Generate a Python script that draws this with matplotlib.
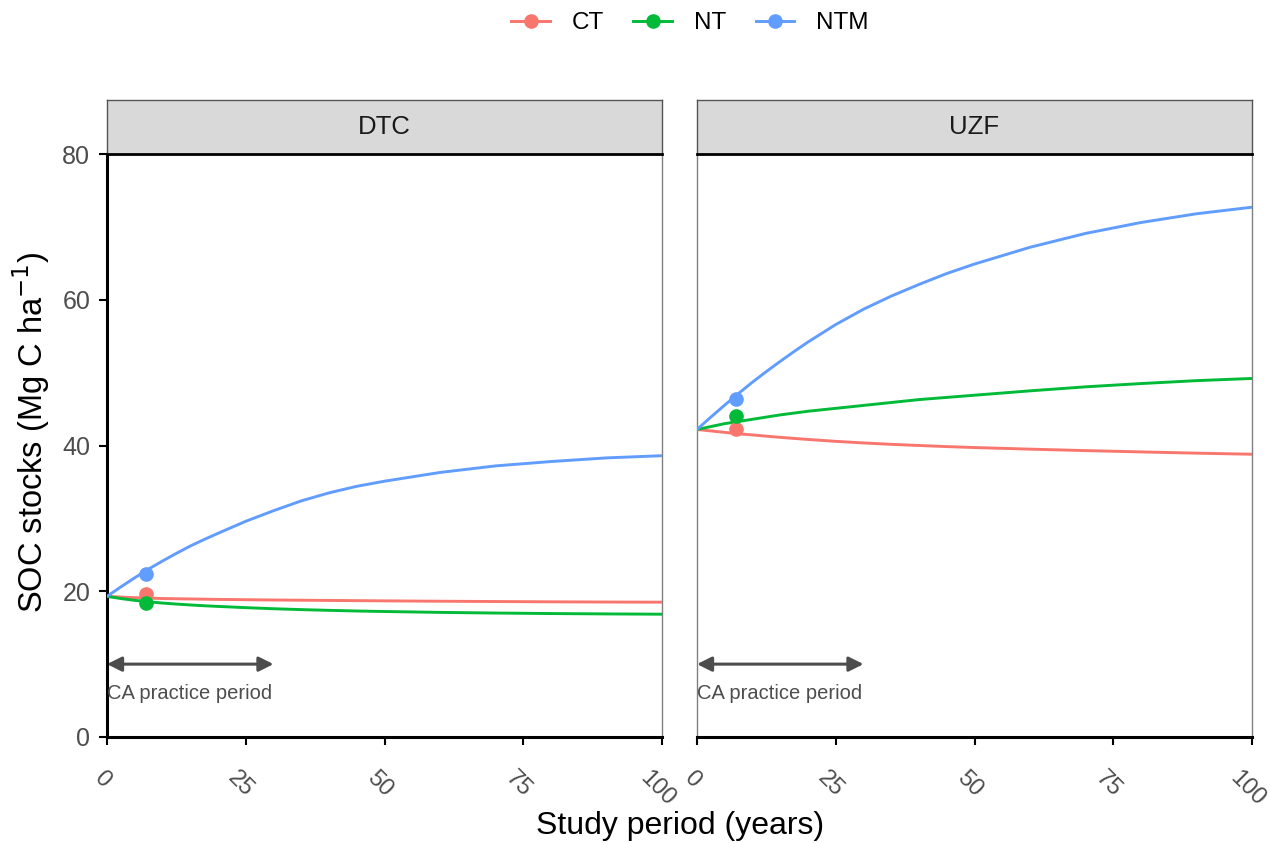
import matplotlib
matplotlib.use("Agg")
import matplotlib.pyplot as plt
from matplotlib.lines import Line2D
from matplotlib.transforms import ScaledTranslation

plt.rcParams['font.family'] = ['Liberation Sans', 'DejaVu Sans']

# data
sites = ['DTC', 'UZF']
treatments = ['CT', 'NT', 'NTM']
colours = {'CT': '#F8766D', 'NT': '#00BA38', 'NTM': '#619CFF'}

years = [0, 2.5, 5, 7.5, 10, 12.5, 15, 17.5, 20, 25, 30, 35, 40, 45, 50, 60, 70, 80, 90, 100]

dtc_ct = [19.3, 19.2, 19.12, 19.06, 19.0, 18.97, 18.94, 18.91, 18.88, 18.84,
          18.8, 18.77, 18.74, 18.71, 18.68, 18.63, 18.59, 18.55, 18.52, 18.5]
dtc_nt = [19.3, 19.0, 18.75, 18.55, 18.38, 18.24, 18.12, 18.01, 17.92, 17.75,
          17.6, 17.48, 17.38, 17.29, 17.22, 17.1, 17.01, 16.94, 16.89, 16.85]
dtc_ntm = [19.3, 20.6, 21.85, 23.05, 24.15, 25.2, 26.2, 27.1, 27.95, 29.6,
           31.05, 32.4, 33.5, 34.4, 35.1, 36.3, 37.2, 37.8, 38.3, 38.6]

uzf_ct = [42.2, 42.0, 41.8, 41.6, 41.45, 41.28, 41.12, 40.97, 40.83, 40.57,
          40.35, 40.16, 40.0, 39.85, 39.72, 39.5, 39.3, 39.12, 38.95, 38.8]
uzf_nt = [42.2, 42.6, 43.0, 43.3, 43.6, 43.9, 44.2, 44.45, 44.7, 45.1,
          45.5, 45.9, 46.3, 46.6, 46.9, 47.5, 48.05, 48.5, 48.9, 49.2]
uzf_ntm = [42.2, 43.9, 45.55, 47.15, 48.7, 50.15, 51.55, 52.9, 54.2, 56.6,
           58.7, 60.5, 62.1, 63.6, 64.9, 67.2, 69.1, 70.6, 71.8, 72.7]

obs_year = 7
dtc_obs = {'CT': 19.6, 'NT': 18.4, 'NTM': 22.3}
uzf_obs = {'CT': 42.3, 'NT': 44.1, 'NTM': 46.4}

curves = {
    'DTC': {'CT': dtc_ct, 'NT': dtc_nt, 'NTM': dtc_ntm},
    'UZF': {'CT': uzf_ct, 'NT': uzf_nt, 'NTM': uzf_ntm},
}
observed = {'DTC': dtc_obs, 'UZF': uzf_obs}

x_ticks = [0, 25, 50, 75, 100]
x_ticklabels = ['0', '25', '50', '75', '100']
y_ticks = [0, 20, 40, 60, 80]

ca_period = (0, 30)

W, H = 1270, 843
fig = plt.figure(figsize=(W / 100, H / 100), dpi=100)

panel_left = [107, 697]
panel_w = 555
panel_top, panel_bottom = 154, 737
strip_top = 100

grey_txt = '#4D4D4D'

for i, site in enumerate(sites):
    x0 = panel_left[i]
    ax = fig.add_axes([x0 / W, (H - panel_bottom) / H, panel_w / W, (panel_bottom - panel_top) / H])
    for t in treatments:
        ax.plot(years, curves[site][t], color=colours[t], lw=2.1, zorder=3)
        ax.plot(obs_year, observed[site][t], 'o', color=colours[t], ms=9.5, zorder=4)

    ax.annotate('', xy=(ca_period[1], 10), xytext=(ca_period[0], 10),
                arrowprops=dict(arrowstyle='<|-|>', color=grey_txt, lw=2.2, mutation_scale=22,
                                shrinkA=0, shrinkB=0))
    ax.text(0, 6, 'CA practice period', ha='left', va='center', fontsize=14.5, color=grey_txt)

    ax.set_xlim(0, 100)
    ax.set_ylim(0, 80)
    ax.set_xticks(x_ticks)
    ax.set_xticklabels([])
    # rotated x labels, nudged a little left of their ticks
    lab_tr = ax.get_xaxis_transform() + ScaledTranslation(-5 / 100, -30 / 100, fig.dpi_scale_trans)
    for xv, lab in zip(x_ticks, x_ticklabels):
        ax.text(xv, 0, lab, transform=lab_tr, rotation=-45, ha='center', va='top',
                fontsize=17, color=grey_txt, clip_on=False)
    ax.set_yticks(y_ticks)
    ax.tick_params(axis='both', length=6, width=1.5, color='black', pad=6)

    for s in ['top', 'right']:
        ax.spines[s].set_color('#808080')
        ax.spines[s].set_linewidth(1)
    ax.spines['bottom'].set_color('black')
    ax.spines['bottom'].set_linewidth(2.2)
    if i == 0:
        ax.spines['left'].set_color('black')
        ax.spines['left'].set_linewidth(2.2)
        ax.tick_params(axis='y', labelsize=18, labelcolor=grey_txt)
    else:
        ax.spines['left'].set_color('#808080')
        ax.spines['left'].set_linewidth(1)
        ax.tick_params(axis='y', left=False, labelleft=False)

    # facet strip
    sx = fig.add_axes([x0 / W, (H - panel_top) / H, panel_w / W, (panel_top - strip_top) / H])
    sx.set_facecolor('#D9D9D9')
    sx.set_xticks([])
    sx.set_yticks([])
    for s in sx.spines.values():
        s.set_color('#555555')
        s.set_linewidth(1)
    sx.spines['bottom'].set_color('black')
    sx.spines['bottom'].set_linewidth(2)
    sx.text(0.5, 0.5, site, ha='center', va='center', fontsize=18.5, color='#1A1A1A',
            transform=sx.transAxes)

fig.text(31 / W, 1 - 432 / H, 'SOC stocks (Mg C ha$^{-1}$)', rotation=90, ha='center',
         va='center', fontsize=23.5)
fig.text(680 / W, 1 - 826 / H, 'Study period (years)', ha='center', va='center', fontsize=23)

handles = [Line2D([0], [0], color=colours[t], lw=2.1, marker='o', ms=9.5) for t in treatments]
fig.legend(handles, treatments, loc='center', bbox_to_anchor=(690 / W, 1 - 23 / H), ncol=3,
           frameon=False, fontsize=17.5, handlelength=1.6, handletextpad=0.9, columnspacing=1.2)

fig.savefig('out.png', dpi=100)
